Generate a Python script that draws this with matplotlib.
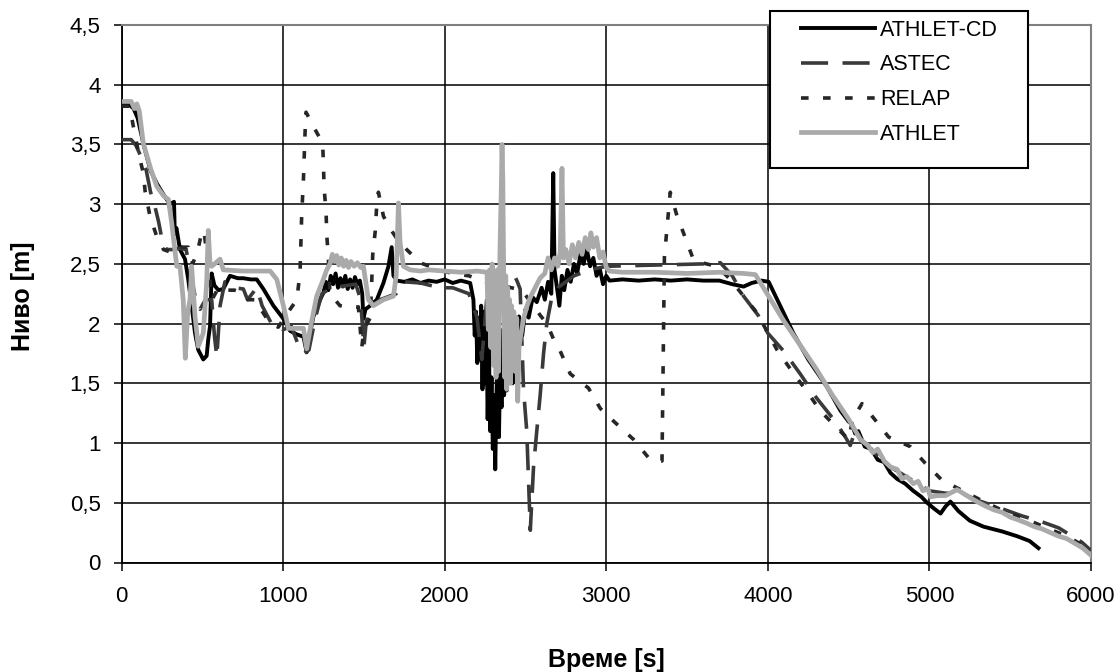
import matplotlib
matplotlib.use('Agg')
import matplotlib.pyplot as plt
from matplotlib.patches import Rectangle
from matplotlib.ticker import FuncFormatter, MultipleLocator

plt.rcParams['font.family'] = ['Liberation Sans', 'DejaVu Sans']

# ATHLET-CD (black solid)
cd_t = [0, 50, 75, 100, 140, 180, 220, 260, 300, 325, 330, 340, 362, 393, 413, 434, 455, 475, 506, 527,
        537, 548, 558, 575, 600, 630, 671, 720, 754, 800, 837, 878, 940, 1002, 1043, 1084, 1126, 1146, 1167, 1188,
        1229, 1250, 1265, 1280, 1295, 1310, 1325, 1340, 1355, 1370, 1385, 1400, 1415, 1430, 1445, 1460, 1475, 1490, 1497, 1510,
        1539, 1580, 1621, 1652, 1672, 1683, 1704, 1750, 1800, 1850, 1900, 1950, 2000, 2050, 2100, 2158,
        2178, 2186, 2194, 2202, 2210, 2218, 2226, 2234, 2242, 2250, 2258, 2266, 2274, 2282, 2290, 2298, 2306, 2313,
        2320, 2328, 2336, 2344, 2352, 2360, 2368, 2376, 2384, 2392, 2400, 2410, 2420, 2432, 2445, 2460,
        2480, 2500, 2520, 2545, 2570, 2600, 2620, 2640, 2660, 2672, 2680, 2695, 2710, 2725,
        2740, 2760, 2780, 2800, 2820, 2840, 2860, 2880, 2900, 2920, 2940, 2960, 2980, 3000, 3020, 3100, 3200, 3300,
        3400, 3500, 3600, 3700, 3780, 3850, 3900, 3960, 4005, 4158, 4250, 4366, 4450, 4500, 4520, 4540, 4560, 4600,
        4640, 4680, 4720, 4759, 4800, 4850, 4900, 4950, 4986, 5030, 5069, 5100, 5130, 5180, 5250, 5335, 5450, 5543,
        5620, 5675]
cd_h = [3.83, 3.83, 3.80, 3.72, 3.48, 3.28, 3.17, 3.08, 3.00, 3.02, 2.75, 2.80, 2.62, 2.54, 2.37, 2.15, 1.92, 1.78, 1.70, 1.73,
        1.87, 1.98, 2.42, 2.32, 2.28, 2.29, 2.40, 2.38, 2.38, 2.37, 2.37, 2.29, 2.15, 2.04, 1.94, 1.91, 1.89, 1.76, 1.92, 2.06,
        2.20, 2.26, 2.35, 2.28, 2.40, 2.33, 2.42, 2.30, 2.38, 2.31, 2.40, 2.29, 2.37, 2.30, 2.39, 2.33, 2.36, 2.25, 2.04, 2.12,
        2.15, 2.20, 2.34, 2.48, 2.64, 2.40, 2.36, 2.35, 2.37, 2.34, 2.36, 2.35, 2.37, 2.34, 2.36, 2.34,
        2.20, 1.90, 2.10, 1.67, 2.05, 1.70, 2.15, 1.45, 2.10, 1.50, 2.00, 1.20, 1.80, 1.10, 1.55, 0.95, 1.40, 0.78,
        1.35, 1.90, 1.05, 1.70, 1.30, 1.95, 1.40, 2.00, 1.44, 2.05, 1.55, 1.95, 1.50, 2.00, 1.80, 2.06,
        1.90, 2.12, 2.05, 2.22, 2.18, 2.30, 2.20, 2.35, 2.25, 3.26, 2.45, 2.30, 2.15, 2.40,
        2.28, 2.45, 2.35, 2.50, 2.42, 2.58, 2.50, 2.62, 2.48, 2.55, 2.40, 2.46, 2.33, 2.40, 2.36, 2.37, 2.36, 2.37,
        2.36, 2.37, 2.36, 2.36, 2.33, 2.31, 2.34, 2.36, 2.35, 1.92, 1.70, 1.47, 1.27, 1.18, 1.16, 1.08, 1.10, 0.97,
        0.95, 0.86, 0.84, 0.75, 0.70, 0.66, 0.60, 0.55, 0.50, 0.45, 0.41, 0.47, 0.51, 0.43, 0.35, 0.30, 0.26, 0.22,
        0.18, 0.12]

# ASTEC (long dash)
astec_t = [0, 60, 90, 120, 152, 180, 207, 230, 257, 280, 320, 360, 400, 430, 460, 486, 520, 558, 575, 590,
           610, 640, 700, 754, 780, 837, 870, 940, 1002, 1050, 1100, 1130, 1160, 1200, 1240, 1300, 1400, 1450, 1480, 1500,
           1520, 1550, 1600, 1700, 1750, 1850, 1972, 2050, 2150, 2200, 2230, 2260, 2292, 2350, 2420, 2450, 2467, 2488,
           2508, 2530, 2550, 2570, 2591, 2612, 2632, 2660, 2700, 2800, 2900, 3000, 3300, 3600, 3706, 3780, 3850, 3940,
           4000, 4098, 4200, 4300, 4418, 4480, 4510, 4540, 4573, 4650, 4759, 4880, 5000, 5100, 5200, 5300, 5429, 5573,
           5697, 5800, 5943, 6000]
astec_h = [3.54, 3.54, 3.49, 3.40, 3.29, 3.10, 2.98, 2.85, 2.66, 2.62, 2.62, 2.63, 2.62, 2.40, 2.20, 2.12, 2.20, 2.20, 1.90, 1.72,
           2.15, 2.35, 2.30, 2.29, 2.20, 2.30, 2.15, 1.97, 1.95, 1.98, 1.80, 1.75, 1.78, 2.05, 2.25, 2.30, 2.32, 2.33, 2.20, 1.80,
           2.10, 2.15, 2.20, 2.25, 2.35, 2.34, 2.30, 2.30, 2.25, 2.05, 1.70, 2.20, 2.43, 2.44, 2.44, 2.35, 2.29, 1.45,
           1.10, 0.27, 0.80, 1.10, 1.40, 1.75, 2.00, 2.20, 2.30, 2.40, 2.45, 2.48, 2.49, 2.50, 2.51, 2.40, 2.23, 2.07,
           1.92, 1.77, 1.58, 1.38, 1.18, 1.05, 0.98, 1.10, 1.03, 0.93, 0.80, 0.70, 0.60, 0.58, 0.58, 0.52, 0.46, 0.39,
           0.34, 0.29, 0.17, 0.10]

# RELAP (short dash)
relap_t = [0, 50, 72, 110, 135, 146, 176, 218, 260, 300, 340, 380, 413, 440, 470, 496, 510, 535, 560, 600,
           640, 700, 745, 783, 830, 867, 920, 970, 1023, 1085, 1105, 1115, 1126, 1136, 1142, 1188, 1245, 1250, 1254, 1266,
           1270, 1280, 1290, 1352, 1404, 1466, 1487, 1500, 1540, 1555, 1570, 1580, 1590, 1621, 1660, 1700, 1765, 1848,
           1961, 2050, 2150, 2250, 2350, 2477, 2550, 2591, 2633, 2680, 2715, 2777, 2890, 2963, 3056, 3169, 3272, 3345,
           3360, 3396, 3438, 3489, 3541, 3620, 3685, 3768, 3850, 3933, 4057, 4150, 4243, 4325, 4418, 4500, 4525, 4583,
           4666, 4748, 4882, 4975, 5077, 5192, 5337, 5461, 5585, 5708, 5850, 5956, 6000]
relap_h = [3.82, 3.82, 3.66, 3.40, 3.26, 3.11, 2.90, 2.73, 2.62, 2.60, 2.65, 2.64, 2.64, 2.50, 2.60, 2.76, 2.78, 2.50, 2.20, 2.30,
           2.28, 2.28, 2.26, 2.20, 2.20, 2.11, 2.00, 1.97, 2.08, 2.20, 2.43, 2.90, 3.21, 3.60, 3.77, 3.65, 3.51, 3.32, 3.13, 2.94,
           2.75, 2.55, 2.25, 2.15, 2.14, 2.14, 1.80, 1.95, 2.05, 2.58, 2.77, 3.00, 3.10, 2.90, 2.80, 2.72, 2.62, 2.51,
           2.45, 2.42, 2.40, 2.35, 2.32, 2.28, 2.15, 2.07, 2.00, 1.85, 1.77, 1.58, 1.46, 1.29, 1.17, 1.03, 0.86, 0.85,
           2.56, 3.10, 2.90, 2.72, 2.53, 2.50, 2.48, 2.37, 2.23, 2.09, 1.78, 1.60, 1.43, 1.27, 1.14, 1.03, 1.20, 1.33,
           1.19, 1.05, 0.97, 0.83, 0.69, 0.61, 0.51, 0.43, 0.37, 0.30, 0.22, 0.14, 0.09]

# ATHLET (light grey solid)
ath_t = [0, 60, 80, 95, 110, 135, 180, 218, 260, 290, 310, 342, 362, 382, 395, 410, 424, 434, 455, 475,
         506, 527, 537, 548, 558, 610, 630, 754, 920, 961, 1002, 1033, 1126, 1146, 1167, 1208, 1249, 1270, 1290, 1305,
         1320, 1332, 1345, 1360, 1375, 1390, 1405, 1420, 1440, 1460, 1480, 1497, 1528, 1559, 1621, 1683, 1700, 1714,
         1724, 1745, 1786, 1850, 1900, 2000, 2100, 2200, 2262,
         2270, 2278, 2286, 2294, 2302, 2310, 2318, 2326, 2334, 2342, 2350, 2355, 2360, 2366, 2372, 2378, 2384, 2390,
         2396, 2402, 2408, 2414, 2420, 2428, 2436, 2444, 2452, 2460, 2470, 2490, 2510, 2530, 2560, 2590, 2620, 2640,
         2660, 2680, 2700, 2715,
         2726, 2735, 2750, 2770, 2790, 2810, 2830, 2850, 2870, 2890, 2905, 2920, 2940, 2960, 2980, 3000, 3020, 3100,
         3300, 3500, 3700, 3850, 3923, 4000, 4100, 4200, 4300, 4400, 4500, 4573, 4620, 4650, 4680, 4720, 4759, 4800,
         4830, 4860, 4900, 4930, 4960, 4990, 5006, 5050, 5100, 5171, 5220, 5280, 5335, 5400, 5450, 5500, 5543, 5600,
         5650, 5700, 5749, 5800, 5850, 5900, 5950, 6000]
ath_h = [3.86, 3.86, 3.80, 3.84, 3.78, 3.51, 3.30, 3.15, 3.07, 3.04, 2.85, 2.48, 2.48, 2.20, 1.71, 2.10, 2.20, 2.48, 2.06, 1.81,
         1.92, 2.34, 2.78, 2.50, 2.48, 2.54, 2.45, 2.44, 2.44, 2.37, 2.15, 1.96, 1.96, 1.79, 1.95, 2.23, 2.37, 2.45, 2.50, 2.58,
         2.52, 2.57, 2.49, 2.55, 2.48, 2.53, 2.47, 2.52, 2.48, 2.51, 2.47, 2.48, 2.20, 2.15, 2.20, 2.23, 2.40, 3.01,
         2.68, 2.48, 2.45, 2.44, 2.45, 2.44, 2.43, 2.44, 2.43,
         1.95, 2.45, 1.80, 2.50, 1.65, 2.40, 1.55, 2.45, 1.60, 2.60, 3.10, 3.50, 3.20, 2.30, 1.55, 2.40, 1.45, 2.30,
         1.60, 2.20, 1.50, 2.15, 1.70, 2.10, 1.60, 2.05, 1.35, 1.80, 1.90, 2.05, 2.15, 2.22, 2.30, 2.38, 2.42, 2.55,
         2.45, 2.55, 2.48, 2.60,
         3.30, 2.55, 2.62, 2.50, 2.66, 2.55, 2.68, 2.58, 2.72, 2.62, 2.76, 2.64, 2.72, 2.55, 2.60, 2.47, 2.44, 2.43,
         2.43, 2.42, 2.43, 2.42, 2.41, 2.24, 2.02, 1.82, 1.62, 1.40, 1.20, 1.03, 0.98, 0.92, 0.95, 0.85, 0.80, 0.78,
         0.70, 0.72, 0.66, 0.68, 0.60, 0.62, 0.55, 0.56, 0.56, 0.61, 0.57, 0.52, 0.48, 0.44, 0.42, 0.38, 0.36, 0.33,
         0.30, 0.28, 0.25, 0.22, 0.20, 0.16, 0.12, 0.06]

W, H = 1119, 672
fig = plt.figure(figsize=(W / 100, H / 100), dpi=100)
ax = fig.add_axes([121.5 / W, 1 - 562.5 / H, (1091 - 121.5) / W, (562.5 - 25) / H])

l1, = ax.plot(cd_t, cd_h, color='black', lw=2.8, label='ATHLET-CD', zorder=3)
l2, = ax.plot(astec_t, astec_h, color='#3a3a3a', lw=2.6, dashes=(7.5, 4), label='ASTEC', zorder=4)
l3, = ax.plot(relap_t, relap_h, color='#262626', lw=2.6, dashes=(2.1, 4), label='RELAP', zorder=5)
l4, = ax.plot(ath_t, ath_h, color='#aaaaaa', lw=3.4, label='ATHLET', zorder=6)

ax.set_xlim(0, 6000)
ax.set_ylim(0, 4.5)
ax.xaxis.set_major_locator(MultipleLocator(1000))
ax.yaxis.set_major_locator(MultipleLocator(0.5))
ax.yaxis.set_major_formatter(FuncFormatter(lambda v, p: ('%g' % v).replace('.', ',')))
ax.grid(True, color='black', lw=1.1)
ax.set_axisbelow(True)
ax.tick_params(direction='out', length=6, width=1.1, labelsize=16, colors='black')
ax.tick_params(axis='x', pad=11)
ax.tick_params(axis='y', pad=9)
for s in ['left', 'bottom']:
    ax.spines[s].set_color('black')
    ax.spines[s].set_linewidth(1.3)
for s in ['top', 'right']:
    ax.spines[s].set_color('#808080')
    ax.spines[s].set_linewidth(1.5)

fig.text(606 / W, 1 - 660 / H, 'Време [s]', ha='center', va='center', fontsize=18, fontweight='bold')
fig.text(23 / W, 1 - 296 / H, 'Ниво [m]', ha='center', va='center', rotation=90, fontsize=18, fontweight='bold')

# legend box drawn by hand so it can sit over the top edge of the plot
fig.add_artist(Rectangle((770 / W, 1 - 168 / H), (1028 - 770) / W, (168 - 11) / H,
                         transform=fig.transFigure, facecolor='white', edgecolor='black', lw=1.5, zorder=3))
fig.legend(handles=[l1, l2, l3, l4], loc='upper left', bbox_to_anchor=(801 / W, 1 - 19.5 / H),
           frameon=False, borderpad=0, borderaxespad=0, handlelength=3.44, handletextpad=0.25,
           labelspacing=0.64, fontsize=15.5)

fig.savefig('out.png', dpi=100)
